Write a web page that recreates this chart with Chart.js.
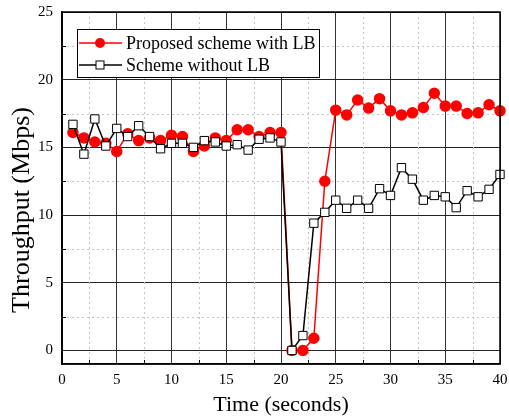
<!DOCTYPE html>
<html>
<head>
<meta charset="utf-8">
<script src="https://cdn.jsdelivr.net/npm/chart.js@4"></script>
<style>
  html, body { margin: 0; padding: 0; background: #fff; }
  #wrap { width: 509px; height: 420px; }
</style>
</head>
<body>
<div id="wrap"><canvas id="throughput"></canvas></div>
<script>
const time = [1, 2, 3, 4, 5, 6, 7, 8, 9, 10, 11, 12, 13, 14, 15, 16, 17, 18, 19, 20,
  21, 22, 23, 24, 25, 26, 27, 28, 29, 30, 31, 32, 33, 34, 35, 36, 37, 38, 39, 40];
const proposed = [16.1, 15.7, 15.4, 15.3, 14.7, 16.0, 15.5, 15.7, 15.5, 15.9,
  15.8, 14.7, 15.1, 15.7, 15.5, 16.3, 16.3, 15.8, 16.1, 16.1,
  0.0, 0.0, 0.9, 12.5, 17.75, 17.4, 18.5, 17.9, 18.6, 17.7,
  17.4, 17.55, 17.95, 19.0, 18.05, 18.05, 17.5, 17.55, 18.15, 17.7];
const withoutLB = [16.7, 14.5, 17.1, 15.1, 16.4, 15.8, 16.6, 15.8, 14.9, 15.3,
  15.3, 15.0, 15.5, 15.4, 15.1, 15.2, 14.8, 15.6, 15.7, 15.4,
  0.0, 1.1, 9.4, 10.2, 11.1, 10.5, 11.1, 10.5, 11.95, 11.45,
  13.5, 12.65, 11.1, 11.45, 11.35, 10.55, 11.8, 11.35, 11.9, 13.0];
const xMajor = [0, 5, 10, 15, 20, 25, 30, 35, 40];
const xMinor = [2.5, 7.5, 12.5, 17.5, 22.5, 27.5, 32.5, 37.5];
const yMajor = [0, 5, 10, 15, 20, 25];
const yMinor = [2.5, 7.5, 12.5, 17.5, 22.5];
const seriesNames = ['Proposed scheme with LB', 'Scheme without LB'];
const yTitle = 'Throughput (Mbps)';

const serif = 'Liberation Serif, Times New Roman, serif';
const setTicks = vals => s => { s.ticks = vals.map(v => ({value: v})); };

// dashed minor grid, drawn under the data
const minorGrid = {
  id: 'minorGrid',
  beforeDatasetsDraw(chart) {
    const ctx = chart.ctx, a = chart.chartArea;
    const xs = chart.scales.x, ys = chart.scales.y;
    ctx.save();
    ctx.strokeStyle = '#c4c4c4';
    ctx.lineWidth = 1;
    ctx.setLineDash([2, 3]);
    ctx.beginPath();
    xMinor.forEach(v => { const p = Math.round(xs.getPixelForValue(v)) + 0.5; ctx.moveTo(p, a.top); ctx.lineTo(p, a.bottom); });
    yMinor.forEach(v => { const p = Math.round(ys.getPixelForValue(v)) + 0.5; ctx.moveTo(a.left, p); ctx.lineTo(a.right, p); });
    ctx.stroke();
    ctx.restore();
  }
};

// frame, inward minor ticks, y title and boxed legend
const decor = {
  id: 'decor',
  afterDraw(chart) {
    const ctx = chart.ctx, a = chart.chartArea;
    const xs = chart.scales.x, ys = chart.scales.y;
    ctx.save();
    ctx.strokeStyle = '#000';
    ctx.lineWidth = 1;
    ctx.beginPath();
    xMinor.forEach(v => { const p = Math.round(xs.getPixelForValue(v)) + 0.5; ctx.moveTo(p, a.bottom); ctx.lineTo(p, a.bottom - 4); });
    yMinor.forEach(v => { const p = Math.round(ys.getPixelForValue(v)) + 0.5; ctx.moveTo(a.left, p); ctx.lineTo(a.left + 4, p); });
    ctx.stroke();
    ctx.lineWidth = 1.5;
    ctx.strokeRect(a.left, a.top, a.right - a.left, a.bottom - a.top);

    // y axis title
    ctx.save();
    ctx.translate(22, 210);
    ctx.rotate(-Math.PI / 2);
    ctx.font = '26px ' + serif;
    ctx.fillStyle = '#000';
    ctx.textAlign = 'center';
    ctx.textBaseline = 'middle';
    ctx.fillText(yTitle, 0, 0);
    ctx.restore();

    // legend
    const bx = a.left + 15, by = a.top + 17, bw = 242, bh = 48;
    ctx.fillStyle = '#fff';
    ctx.fillRect(bx, by, bw, bh);
    ctx.lineWidth = 1;
    ctx.strokeStyle = '#000';
    ctx.strokeRect(bx + 0.5, by + 0.5, bw, bh);
    ctx.font = '18px ' + serif;
    ctx.textBaseline = 'middle';
    seriesNames.forEach((name, i) => {
      const ds = chart.data.datasets[i];
      const y = by + 14 + i * 22;
      ctx.strokeStyle = ds.borderColor;
      ctx.lineWidth = 1.5;
      ctx.beginPath();
      ctx.moveTo(bx + 2, y); ctx.lineTo(bx + 45, y);
      ctx.stroke();
      ctx.fillStyle = ds.pointBackgroundColor;
      ctx.strokeStyle = ds.pointBorderColor;
      ctx.lineWidth = 1;
      if (i === 0) {
        ctx.beginPath(); ctx.arc(bx + 23, y, 5, 0, Math.PI * 2); ctx.fill();
      } else {
        ctx.fillRect(bx + 19, y - 4, 8, 8);
        ctx.strokeRect(bx + 19, y - 4, 8, 8);
      }
      ctx.fillStyle = '#000';
      ctx.fillText(name, bx + 49, y + 1);
    });
    ctx.restore();
  }
};

new Chart(document.getElementById('throughput'), {
  type: 'line',
  data: {
    datasets: [
      {
        label: seriesNames[0],
        data: time.map((t, i) => ({x: t, y: proposed[i]})),
        borderColor: '#ff0000',
        backgroundColor: '#ff0000',
        pointBackgroundColor: '#ff0000',
        pointBorderColor: '#ff0000',
        pointStyle: 'circle',
        pointRadius: 5,
        borderWidth: 1.5,
        tension: 0,
        clip: false,
        order: 2
      },
      {
        label: seriesNames[1],
        data: time.map((t, i) => ({x: t, y: withoutLB[i]})),
        borderColor: '#000000',
        backgroundColor: '#ffffff',
        pointBackgroundColor: '#ffffff',
        pointBorderColor: '#000000',
        pointStyle: 'rect',
        pointRadius: 5.9,
        pointBorderWidth: 1,
        borderWidth: 1.5,
        tension: 0,
        clip: false,
        order: 1
      }
    ]
  },
  options: {
    responsive: true,
    maintainAspectRatio: false,
    animation: false,
    layout: {padding: {top: 12, right: 9, bottom: 0, left: 0}},
    plugins: {
      legend: {display: false},
      tooltip: {enabled: false}
    },
    scales: {
      x: {
        type: 'linear',
        position: 'bottom',
        min: 0,
        max: 40,
        afterBuildTicks: setTicks(xMajor),
        afterFit: s => { s.height = 56; s.paddingLeft = 0; s.paddingRight = 0; },
        grid: {color: '#333', lineWidth: 1, drawTicks: false},
        border: {color: '#000', width: 1.5},
        ticks: {color: '#000', padding: 7, font: {family: serif, size: 15}},
        title: {
          display: true,
          text: 'Time (seconds)',
          color: '#000',
          font: {family: serif, size: 22},
          padding: {top: 0, bottom: 2}
        }
      },
      y: {
        type: 'linear',
        position: 'left',
        min: -1,
        max: 25,
        afterBuildTicks: setTicks(yMajor),
        afterFit: s => { s.width = 62; s.paddingTop = 0; s.paddingBottom = 0; },
        grid: {color: '#222', lineWidth: 1, drawTicks: false},
        border: {color: '#000', width: 1.5},
        ticks: {color: '#000', padding: 9, font: {family: serif, size: 15}}
      }
    }
  },
  plugins: [minorGrid, decor]
});
</script>
</body>
</html>
